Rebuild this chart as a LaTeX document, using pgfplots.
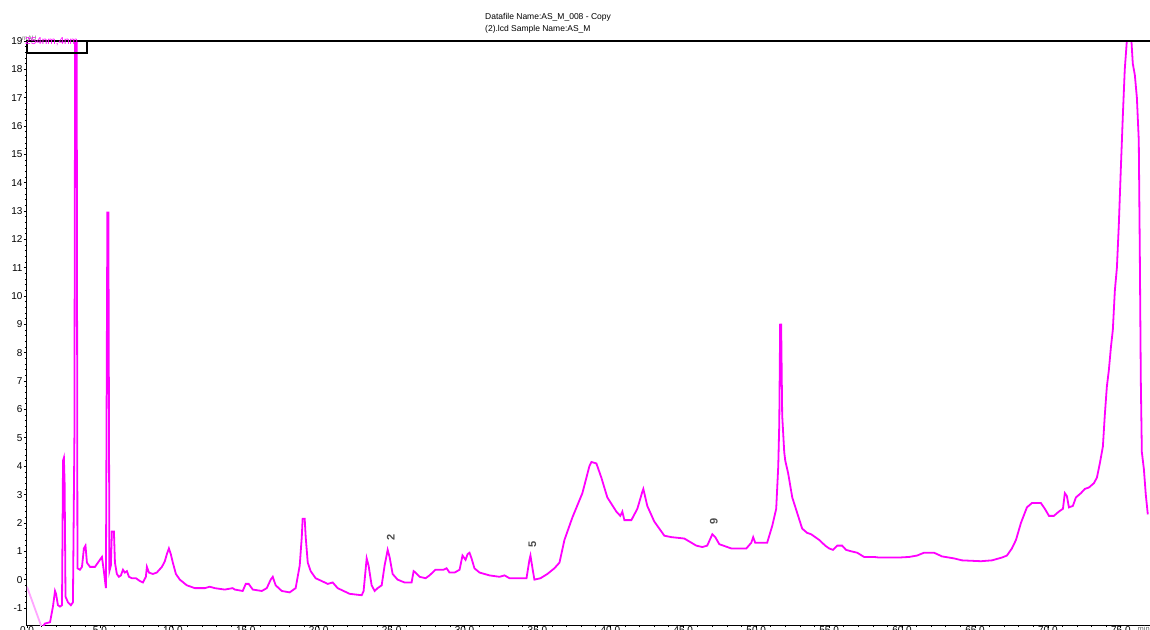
\documentclass[border=0pt]{standalone}
\usepackage{pgfplots}
\pgfplotsset{compat=1.18}
\usepackage{fontspec}
\setmainfont{Liberation Sans}
\definecolor{trace}{RGB}{255,0,255}
\definecolor{faint}{RGB}{255,165,255}
\begin{document}
\begin{tikzpicture}
\begin{axis}[name=ax, scale only axis, width=1123pt, height=584pt,
  xmin=0, xmax=77, ymin=-1.6, ymax=19,
  xtick={0,5,...,75}, ytick={-1,0,...,19},
  minor x tick num=4, minor y tick num=4,
  xtick pos=bottom, ytick pos=left,
  tick align=outside, major tick length=3pt, minor tick length=2pt,
  tick style={black, line width=0.8pt},
  axis line style={line width=1pt},
  xticklabel={\pgfmathprintnumber[fixed,fixed zerofill,precision=1]{\tick}},
  /pgf/number format/assume math mode=true,
  ticklabel style={font=\fontsize{10}{12}\selectfont},
  xticklabel style={yshift=5pt},
  yticklabel style={xshift=2pt},
  clip=true]
\addplot[faint, line width=1.8pt] coordinates {(0,-0.25) (1.16,-1.9)};
\addplot[trace, line width=1.8pt] table {
x y
0.89 -1.8
1.23 -1.55
1.58 -1.5
1.78 -0.95
1.92 -0.4
1.99 -0.5
2.12 -0.9
2.26 -0.95
2.40 -0.9
2.47 4.2
2.53 4.3
2.58 3.4
2.64 -0.6
2.81 -0.8
3.01 -0.9
3.15 -0.8
3.25 5.0
3.32 25
3.39 25
3.46 0.4
3.63 0.35
3.77 0.45
3.90 1.1
4.01 1.2
4.11 0.6
4.32 0.45
4.66 0.45
5.00 0.7
5.14 0.8
5.27 0.3
5.41 -0.3
5.51 12.95
5.58 12.95
5.65 0.3
5.75 0.5
5.82 1.7
5.96 1.7
6.03 0.6
6.16 0.2
6.30 0.1
6.44 0.15
6.58 0.35
6.71 0.25
6.85 0.3
6.99 0.1
7.19 0.05
7.47 0.05
7.74 -0.05
7.95 -0.1
8.15 0.1
8.22 0.45
8.36 0.25
8.63 0.2
8.90 0.25
9.25 0.45
9.45 0.65
9.59 0.9
9.73 1.1
9.86 0.9
10.00 0.6
10.21 0.2
10.48 0.0
10.96 -0.2
11.51 -0.3
12.19 -0.3
12.53 -0.25
12.88 -0.3
13.56 -0.35
14.10 -0.3
14.25 -0.35
14.79 -0.4
15.00 -0.15
15.20 -0.15
15.48 -0.35
16.10 -0.4
16.44 -0.3
16.71 0.0
16.85 0.1
17.05 -0.2
17.47 -0.4
18.01 -0.45
18.42 -0.3
18.70 0.5
18.84 1.5
18.90 2.15
19.04 2.15
19.11 1.5
19.25 0.6
19.45 0.3
19.79 0.05
20.21 -0.05
20.62 -0.15
20.96 -0.1
21.30 -0.3
21.71 -0.4
22.12 -0.5
22.95 -0.55
23.08 -0.4
23.29 0.75
23.42 0.5
23.63 -0.2
23.84 -0.4
24.04 -0.3
24.32 -0.2
24.52 0.5
24.73 1.05
24.86 0.8
25.07 0.2
25.41 0.0
25.89 -0.1
26.37 -0.1
26.51 0.3
26.64 0.25
26.92 0.1
27.33 0.05
27.60 0.15
28.01 0.35
28.56 0.35
28.77 0.4
28.97 0.25
29.32 0.25
29.66 0.35
29.86 0.85
30.07 0.7
30.21 0.9
30.34 0.95
30.48 0.75
30.68 0.4
31.03 0.25
31.71 0.15
32.40 0.1
32.74 0.15
33.08 0.05
33.77 0.05
34.25 0.05
34.45 0.7
34.52 0.85
34.66 0.4
34.79 0.0
35.21 0.05
35.68 0.2
36.16 0.4
36.51 0.6
36.85 1.4
37.40 2.2
38.08 3.05
38.56 4.0
38.70 4.15
39.04 4.1
39.38 3.6
39.79 2.9
40.41 2.4
40.68 2.25
40.82 2.4
40.96 2.1
41.44 2.1
41.85 2.5
42.19 3.1
42.26 3.2
42.53 2.6
43.01 2.05
43.70 1.55
44.18 1.5
45.07 1.45
45.89 1.2
46.30 1.15
46.64 1.2
46.99 1.6
47.19 1.5
47.47 1.25
48.29 1.1
49.32 1.1
49.66 1.3
49.79 1.5
49.93 1.3
50.75 1.3
51.10 1.9
51.37 2.5
51.51 4.0
51.58 5.5
51.64 9.0
51.71 9.0
51.78 5.8
51.92 4.5
51.99 4.2
52.19 3.75
52.47 2.9
52.81 2.35
53.15 1.8
53.49 1.65
53.77 1.6
54.32 1.4
54.73 1.2
55.00 1.1
55.27 1.05
55.55 1.2
55.89 1.2
56.16 1.05
56.51 1.0
56.92 0.95
57.40 0.8
58.08 0.8
58.42 0.78
59.79 0.78
60.48 0.8
61.03 0.85
61.51 0.95
62.19 0.95
62.74 0.82
63.56 0.75
64.11 0.68
65.41 0.65
66.16 0.68
66.85 0.78
67.19 0.85
67.53 1.1
67.81 1.4
68.15 2.0
68.56 2.55
68.90 2.7
69.52 2.7
69.79 2.5
70.07 2.25
70.41 2.25
70.75 2.4
71.03 2.5
71.16 3.05
71.30 2.95
71.44 2.55
71.71 2.6
71.92 2.9
72.26 3.05
72.53 3.2
72.81 3.25
73.15 3.4
73.36 3.6
73.56 4.1
73.77 4.7
73.90 5.8
74.04 6.8
74.18 7.4
74.32 8.2
74.45 8.8
74.59 10.2
74.73 11.0
74.86 12.5
75.00 14.5
75.14 16.4
75.27 18.0
75.41 19.0
75.55 19.5
75.68 19.4
75.82 18.2
75.96 17.8
76.10 17.0
76.23 15.5
76.30 11.6
76.37 7.0
76.44 4.5
76.58 3.9
76.71 3.0
76.85 2.3
};
\node[rotate=90, text=black!70, font=\fontsize{11}{12}\selectfont\bfseries] at (axis cs:24.95,1.5) {2};
\node[rotate=90, text=black!70, font=\fontsize{11}{12}\selectfont\bfseries] at (axis cs:34.65,1.25) {5};
\node[rotate=90, text=black!70, font=\fontsize{11}{12}\selectfont\bfseries] at (axis cs:47.1,2.05) {9};
\end{axis}
\draw[line width=1.2pt] (ax.north west) -- ++(0,-12pt) -- ++(60pt,0) -- ++(0,12pt);
\draw[line width=1.6pt] (ax.north west) -- (ax.north east);
\node[anchor=south west, inner sep=0pt, text=black!55, font=\fontsize{6.5}{7}\selectfont] at ([shift={(-5pt,0.5pt)}]ax.north west) {mAU};
\node[anchor=west, inner sep=0pt, text=trace, font=\fontsize{10}{11}\selectfont] at ([shift={(-2pt,-1pt)}]ax.north west) {254nm,4nm};
\node[anchor=base west, inner sep=0pt, font=\fontsize{8.5}{10}\selectfont] at ([shift={(458pt,21pt)}]ax.north west) {Datafile Name:AS\_M\_008 - Copy};
\node[anchor=base west, inner sep=0pt, font=\fontsize{8.5}{10}\selectfont] at ([shift={(458pt,9pt)}]ax.north west) {(2).lcd Sample Name:AS\_M};
\node[anchor=north east, inner sep=0pt, text=black!60, font=\fontsize{7.5}{8}\selectfont] at ([shift={(0pt,-0.5pt)}]ax.south east) {min};
\pgfresetboundingbox
\useasboundingbox ([shift={(-27pt,-4pt)}]ax.south west) rectangle ([shift={(0pt,41pt)}]ax.north east);
\end{tikzpicture}
\end{document}
